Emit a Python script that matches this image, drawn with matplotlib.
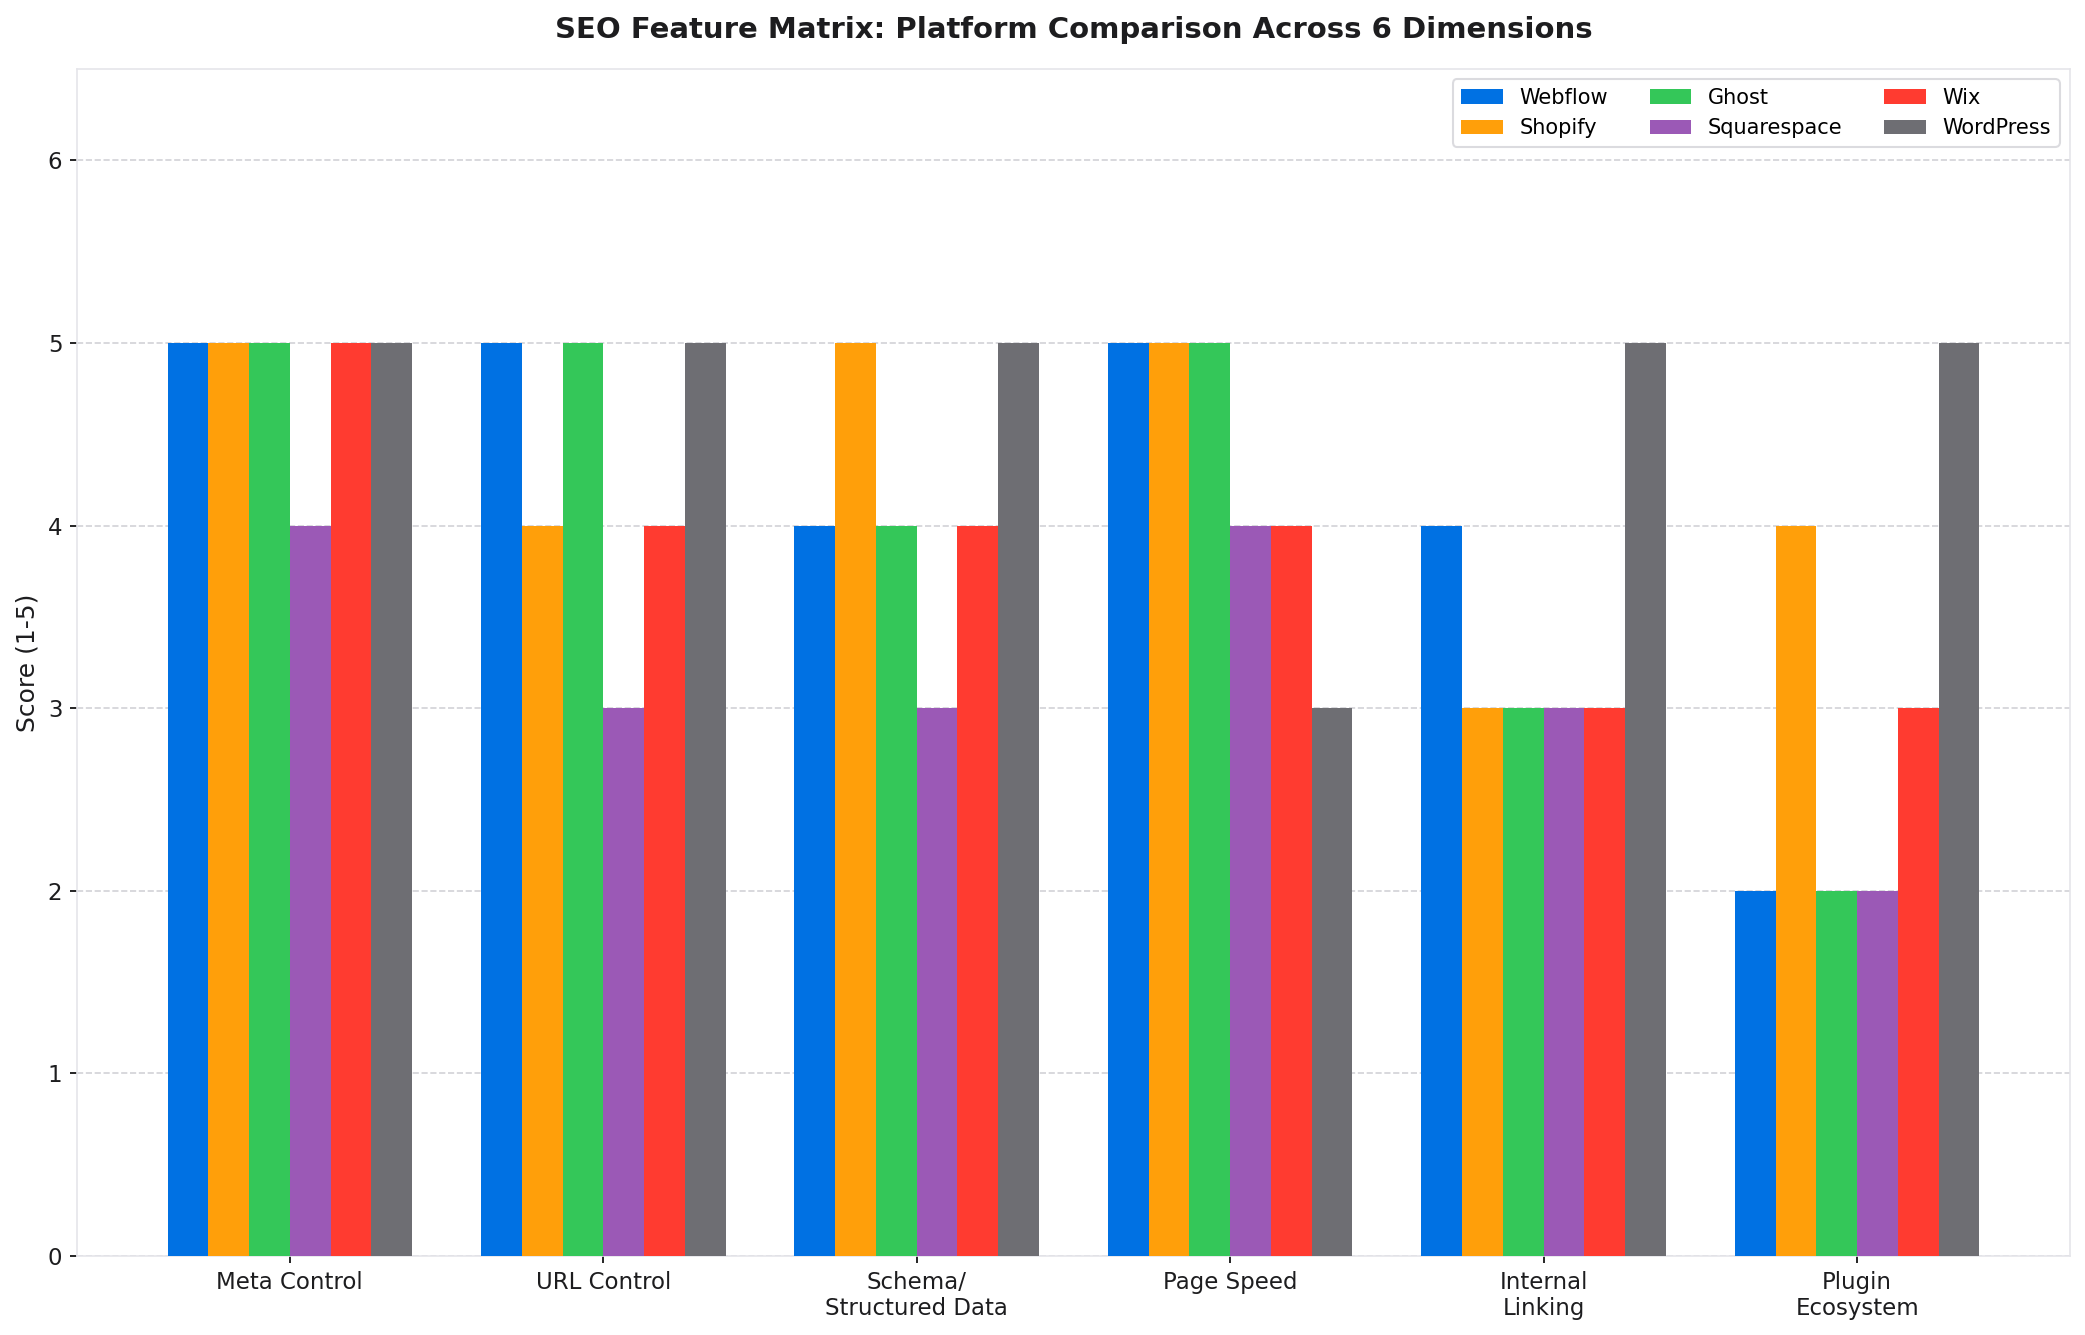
import matplotlib
matplotlib.use("Agg")
import matplotlib.pyplot as plt
import numpy as np

categories = ["Meta Control", "URL Control", "Schema/\nStructured Data", "Page Speed", "Internal\nLinking", "Plugin\nEcosystem"]
platforms = ["Webflow", "Shopify", "Ghost", "Squarespace", "Wix", "WordPress"]
webflow = [5, 5, 4, 5, 4, 2]
shopify = [5, 4, 5, 5, 3, 4]
ghost = [5, 5, 4, 5, 3, 2]
squarespace = [4, 3, 3, 4, 3, 2]
wix = [5, 4, 4, 4, 3, 3]
wordpress = [5, 5, 5, 3, 5, 5]
series = [webflow, shopify, ghost, squarespace, wix, wordpress]
colors = ["#0071E3", "#FF9F0A", "#34C759", "#9B59B6", "#FF3B30", "#6E6E73"]

fig, ax = plt.subplots(figsize=(13.9, 8.9), dpi=150)
fig.subplots_adjust(left=0.0369, right=0.9928, bottom=0.0592, top=0.9483)
x = np.arange(len(categories))
w = 0.13
n = len(series)
for i, (vals, name, c) in enumerate(zip(series, platforms, colors)):
    ax.bar(x + (i - (n - 1) / 2) * w, vals, w, label=name, color=c, zorder=3)

ax.set_xticks(x)
ax.set_xticklabels(categories, fontsize=11, color="#1d1d1f")
ax.set_ylim(0, 6.5)
ax.set_yticks([0, 1, 2, 3, 4, 5, 6])
ax.tick_params(axis="y", labelsize=11, labelcolor="#1d1d1f")
ax.set_ylabel("Score (1-5)", fontsize=12, color="#1d1d1f")
ax.set_title("SEO Feature Matrix: Platform Comparison Across 6 Dimensions",
             fontsize=14, fontweight="bold", color="#1d1d1f", pad=15)
ax.grid(axis="y", linestyle="--", color="#d2d2d7", linewidth=0.8, zorder=0)
for s in ax.spines.values():
    s.set_color("#e5e5ea")
leg = ax.legend(ncol=3, loc="upper right", fontsize=10, frameon=True)
leg.get_frame().set_edgecolor("#d2d2d7")
fig.savefig("out.png", dpi=150)
